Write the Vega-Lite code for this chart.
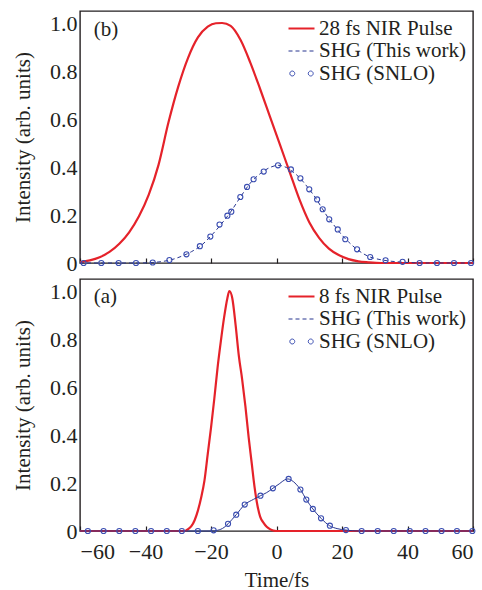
{
  "$schema": "https://vega.github.io/schema/vega-lite/v6.json",
  "background": "white",
  "padding": {"left": 11, "top": 10, "right": 9, "bottom": 0},
  "config": {
    "font": "Liberation Serif",
    "view": {"stroke": "#231f20", "strokeWidth": 1.4},
    "text": {"font": "Liberation Serif"},
    "axis": {
      "labelFont": "Liberation Serif",
      "titleFont": "Liberation Serif",
      "labelFontSize": 22,
      "titleFontSize": 21,
      "titleFontWeight": "normal",
      "labelColor": "#231f20",
      "titleColor": "#231f20",
      "tickColor": "#231f20",
      "domain": false,
      "grid": false
    },
    "legend": {
      "orient": "top-right",
      "offset": 7,
      "padding": 0,
      "labelFont": "Liberation Serif",
      "labelFontSize": 21,
      "labelColor": "#231f20",
      "labelLimit": 300,
      "symbolSize": 676,
      "labelOffset": 7,
      "rowPadding": 0.5,
      "symbolStrokeWidth": 1
    }
  },
  "datasets": {
    "top_pulse": [
      {"t": -60, "v": 0.004}, {"t": -57, "v": 0.011}, {"t": -54, "v": 0.024}, {"t": -51, "v": 0.046},
      {"t": -48, "v": 0.08}, {"t": -45, "v": 0.128}, {"t": -42, "v": 0.195}, {"t": -39, "v": 0.285},
      {"t": -36, "v": 0.41}, {"t": -33, "v": 0.585}, {"t": -30, "v": 0.735}, {"t": -27, "v": 0.855},
      {"t": -24, "v": 0.94}, {"t": -21, "v": 0.985}, {"t": -18.5, "v": 0.999}, {"t": -16.6, "v": 1.0},
      {"t": -14, "v": 0.988}, {"t": -11, "v": 0.93}, {"t": -8, "v": 0.835}, {"t": -5, "v": 0.725},
      {"t": -2, "v": 0.61}, {"t": 1, "v": 0.495}, {"t": 4, "v": 0.38}, {"t": 7, "v": 0.265},
      {"t": 10, "v": 0.17}, {"t": 13, "v": 0.105}, {"t": 16, "v": 0.06}, {"t": 19, "v": 0.033},
      {"t": 22, "v": 0.016}, {"t": 25, "v": 0.007}, {"t": 28, "v": 0.003}, {"t": 32, "v": 0},
      {"t": 60, "v": 0}
    ],
    "top_line": [
      {"t": -60, "v": 0}, {"t": -42, "v": 0}, {"t": -38, "v": 0.002}, {"t": -35, "v": 0.006},
      {"t": -32, "v": 0.014}, {"t": -29, "v": 0.028}, {"t": -26, "v": 0.047}, {"t": -23, "v": 0.073},
      {"t": -20, "v": 0.113}, {"t": -17, "v": 0.16}, {"t": -14, "v": 0.213}, {"t": -11, "v": 0.275},
      {"t": -8, "v": 0.333}, {"t": -5, "v": 0.372}, {"t": -2, "v": 0.398}, {"t": 0.5, "v": 0.407},
      {"t": 3, "v": 0.398}, {"t": 5, "v": 0.38}, {"t": 7, "v": 0.356}, {"t": 10, "v": 0.307},
      {"t": 12, "v": 0.27}, {"t": 14, "v": 0.226}, {"t": 16, "v": 0.184}, {"t": 18, "v": 0.15},
      {"t": 20, "v": 0.116}, {"t": 22, "v": 0.088}, {"t": 24, "v": 0.063}, {"t": 26, "v": 0.043},
      {"t": 28, "v": 0.028}, {"t": 31, "v": 0.016}, {"t": 34, "v": 0.009}, {"t": 38, "v": 0.004},
      {"t": 42, "v": 0.001}, {"t": 46, "v": 0}, {"t": 60, "v": 0}
    ],
    "top_snlo": [
      {"t": -58.9, "v": 0}, {"t": -53.5, "v": 0}, {"t": -48.2, "v": 0}, {"t": -42.9, "v": 0},
      {"t": -37.8, "v": 0.002}, {"t": -32.7, "v": 0.012}, {"t": -27.5, "v": 0.036}, {"t": -23.4, "v": 0.07},
      {"t": -20.2, "v": 0.11}, {"t": -17.4, "v": 0.16}, {"t": -15, "v": 0.197}, {"t": -13.8, "v": 0.214},
      {"t": -11.05, "v": 0.275}, {"t": -9, "v": 0.317}, {"t": -7, "v": 0.349}, {"t": -3.9, "v": 0.381},
      {"t": 0.46, "v": 0.407}, {"t": 4.4, "v": 0.39}, {"t": 7.3, "v": 0.353}, {"t": 10, "v": 0.307},
      {"t": 12.4, "v": 0.265}, {"t": 14.1, "v": 0.224}, {"t": 16.1, "v": 0.182}, {"t": 18.7, "v": 0.14},
      {"t": 21, "v": 0.099}, {"t": 24.6, "v": 0.057}, {"t": 28.6, "v": 0.025}, {"t": 33.3, "v": 0.011},
      {"t": 38.5, "v": 0.005}, {"t": 43.7, "v": 0}, {"t": 49, "v": 0}, {"t": 54.2, "v": 0}, {"t": 59.4, "v": 0}
    ],
    "bot_pulse": [
      {"t": -60, "v": 0}, {"t": -28, "v": 0}, {"t": -27.3, "v": 0.005}, {"t": -26, "v": 0.02},
      {"t": -25, "v": 0.045}, {"t": -24, "v": 0.085}, {"t": -23, "v": 0.14}, {"t": -22, "v": 0.21},
      {"t": -21, "v": 0.32}, {"t": -20, "v": 0.43}, {"t": -19, "v": 0.55}, {"t": -18, "v": 0.68},
      {"t": -17, "v": 0.79}, {"t": -16, "v": 0.89}, {"t": -15, "v": 0.97}, {"t": -14.4, "v": 1.0},
      {"t": -13.5, "v": 0.97}, {"t": -12.5, "v": 0.86}, {"t": -11.5, "v": 0.73}, {"t": -10.5, "v": 0.633},
      {"t": -9.5, "v": 0.52}, {"t": -8.5, "v": 0.39}, {"t": -7.5, "v": 0.275}, {"t": -7, "v": 0.215},
      {"t": -6, "v": 0.12}, {"t": -5, "v": 0.06}, {"t": -4, "v": 0.035}, {"t": -3, "v": 0.018},
      {"t": -2, "v": 0.008}, {"t": -1, "v": 0.002}, {"t": 0, "v": 0}, {"t": 60, "v": 0}
    ],
    "bot_line": [
      {"t": -60, "v": 0}, {"t": -20, "v": 0}, {"t": -18, "v": 0.003}, {"t": -16, "v": 0.015},
      {"t": -14.8, "v": 0.03}, {"t": -12.3, "v": 0.068}, {"t": -9.7, "v": 0.11}, {"t": -7, "v": 0.132},
      {"t": -4.9, "v": 0.147}, {"t": -3, "v": 0.16}, {"t": -1.1, "v": 0.178}, {"t": 1, "v": 0.198},
      {"t": 2.5, "v": 0.213}, {"t": 3.5, "v": 0.217}, {"t": 4.5, "v": 0.212}, {"t": 6, "v": 0.195},
      {"t": 7.3, "v": 0.173}, {"t": 9.1, "v": 0.131}, {"t": 11.1, "v": 0.092}, {"t": 13.6, "v": 0.053},
      {"t": 16.2, "v": 0.022}, {"t": 18.5, "v": 0.01}, {"t": 21.2, "v": 0.004}, {"t": 25, "v": 0},
      {"t": 60, "v": 0}
    ],
    "bot_snlo": [
      {"t": -57.6, "v": 0}, {"t": -52.8, "v": 0}, {"t": -48, "v": 0}, {"t": -43.1, "v": 0},
      {"t": -38.3, "v": 0}, {"t": -33.5, "v": 0}, {"t": -28.9, "v": 0}, {"t": -24, "v": 0},
      {"t": -19.2, "v": 0.003}, {"t": -14.8, "v": 0.03}, {"t": -12.3, "v": 0.068}, {"t": -9.7, "v": 0.11},
      {"t": -4.9, "v": 0.147}, {"t": -1.1, "v": 0.178}, {"t": 3.7, "v": 0.217}, {"t": 7.3, "v": 0.173},
      {"t": 9.1, "v": 0.131}, {"t": 11.1, "v": 0.092}, {"t": 13.6, "v": 0.053}, {"t": 16.3, "v": 0.022},
      {"t": 21.2, "v": 0.004}, {"t": 26, "v": 0}, {"t": 30.9, "v": 0}, {"t": 35.8, "v": 0},
      {"t": 40.7, "v": 0}, {"t": 45.5, "v": 0}, {"t": 50.4, "v": 0}, {"t": 55.1, "v": 0}, {"t": 59.8, "v": 0}
    ]
  },
  "spacing": 3,
  "resolve": {"scale": {"color": "independent"}, "legend": {"color": "independent"}},
  "vconcat": [
    {
      "width": 393,
      "height": 252,
      "layer": [
        {
          "data": {"name": "top_pulse"},
          "mark": {"type": "line", "strokeWidth": 2.2, "interpolate": "monotone"},
          "encoding": {
            "x": {"field": "t", "type": "quantitative",
              "scale": {"domain": [-60, 60], "nice": false, "zero": false},
              "axis": {"values": [-60, -40, -20, 0, 20, 40, 60], "labels": false, "title": null, "tickSize": -5, "tickWidth": 1.2}},
            "y": {"field": "v", "type": "quantitative",
              "scale": {"domain": [0, 1.05], "nice": false},
              "axis": {"values": [0, 0.2, 0.4, 0.6, 0.8, 1.0], "ticks": false, "labelPadding": 3, "titlePadding": 16,
                "labelFont": "Liberation Serif", "titleFont": "Liberation Serif",
                "labelExpr": "datum.value == 0 ? '0' : format(datum.value, '.1f')",
                "title": "Intensity (arb. units)"}},
            "color": {"datum": "28 fs NIR Pulse", "type": "nominal",
              "scale": {"domain": ["28 fs NIR Pulse", "SHG (This work)", "SHG (SNLO)"], "range": ["#e5222a", "#27358f", "#3a4db1"]},
              "legend": {"title": null, "labelFont": "Liberation Serif",
                "encode": {"symbols": {"update": {
                  "shape": {"signal": "datum.value == 'SHG (SNLO)' ? 'M-0.52,0A0.19,0.19 0 1,1 -0.9,0A0.19,0.19 0 1,1 -0.52,0ZM0.9,0A0.19,0.19 0 1,1 0.52,0A0.19,0.19 0 1,1 0.9,0Z' : 'stroke'"},
                  "strokeDash": {"signal": "datum.value == 'SHG (This work)' ? [4, 3] : [1, 0]"},
                  "stroke": {"signal": "datum.value == 'SHG (This work)' ? '#27358f' : (datum.value == 'SHG (SNLO)' ? '#3a4db1' : '#e5222a')"},
                  "strokeWidth": {"signal": "datum.value == 'SHG (This work)' || datum.value == 'SHG (SNLO)' ? 1 : 2.2"},
                  "fill": {"value": "transparent"}
                }}}}}
          }
        },
        {
          "data": {"name": "top_line"},
          "mark": {"type": "line", "strokeWidth": 1, "strokeDash": [4, 3], "interpolate": "monotone"},
          "encoding": {
            "x": {"field": "t", "type": "quantitative"},
            "y": {"field": "v", "type": "quantitative"},
            "color": {"datum": "SHG (This work)", "type": "nominal"}}
        },
        {
          "data": {"name": "top_snlo"},
          "mark": {"type": "point", "shape": "circle", "filled": false, "size": 26, "strokeWidth": 1.1, "opacity": 1},
          "encoding": {
            "x": {"field": "t", "type": "quantitative"},
            "y": {"field": "v", "type": "quantitative"},
            "color": {"datum": "SHG (SNLO)", "type": "nominal"}}
        },
        {
          "data": {"values": [{"label": "(b)"}]},
          "mark": {"type": "text", "align": "left", "baseline": "alphabetic", "fontSize": 21, "font": "Liberation Serif", "color": "#231f20"},
          "encoding": {
            "x": {"datum": -55.8, "type": "quantitative"},
            "y": {"datum": 0.945, "type": "quantitative"},
            "text": {"field": "label", "type": "nominal"}
          }
        }
      ]
    },
    {
      "width": 393,
      "height": 252,
      "layer": [
        {
          "data": {"name": "bot_pulse"},
          "mark": {"type": "line", "strokeWidth": 2.2, "interpolate": "monotone"},
          "encoding": {
            "x": {"field": "t", "type": "quantitative",
              "scale": {"domain": [-60, 60], "nice": false, "zero": false},
              "axis": {"values": [-60, -40, -20, 0, 20, 40, 60], "tickSize": -5, "tickWidth": 1.2, "labelPadding": 15, "titlePadding": 7, "title": "Time/fs",
                "labelFont": "Liberation Serif", "titleFont": "Liberation Serif"}},
            "y": {"field": "v", "type": "quantitative",
              "scale": {"domain": [0, 1.05], "nice": false},
              "axis": {"values": [0, 0.2, 0.4, 0.6, 0.8, 1.0], "ticks": false, "labelPadding": 3, "titlePadding": 16,
                "labelFont": "Liberation Serif", "titleFont": "Liberation Serif",
                "labelExpr": "datum.value == 0 ? '0' : format(datum.value, '.1f')",
                "title": "Intensity (arb. units)"}},
            "color": {"datum": "8 fs NIR Pulse", "type": "nominal",
              "scale": {"domain": ["8 fs NIR Pulse", "SHG (This work)", "SHG (SNLO)"], "range": ["#e5222a", "#27358f", "#3a4db1"]},
              "legend": {"title": null, "labelFont": "Liberation Serif",
                "encode": {"symbols": {"update": {
                  "shape": {"signal": "datum.value == 'SHG (SNLO)' ? 'M-0.52,0A0.19,0.19 0 1,1 -0.9,0A0.19,0.19 0 1,1 -0.52,0ZM0.9,0A0.19,0.19 0 1,1 0.52,0A0.19,0.19 0 1,1 0.9,0Z' : 'stroke'"},
                  "strokeDash": {"signal": "datum.value == 'SHG (This work)' ? [4, 3] : [1, 0]"},
                  "stroke": {"signal": "datum.value == 'SHG (This work)' ? '#27358f' : (datum.value == 'SHG (SNLO)' ? '#3a4db1' : '#e5222a')"},
                  "strokeWidth": {"signal": "datum.value == 'SHG (This work)' || datum.value == 'SHG (SNLO)' ? 1 : 2.2"},
                  "fill": {"value": "transparent"}
                }}}}}
          }
        },
        {
          "data": {"name": "bot_line"},
          "mark": {"type": "line", "strokeWidth": 1, "interpolate": "monotone"},
          "encoding": {
            "x": {"field": "t", "type": "quantitative"},
            "y": {"field": "v", "type": "quantitative"},
            "color": {"datum": "SHG (This work)", "type": "nominal"}}
        },
        {
          "data": {"name": "bot_snlo"},
          "mark": {"type": "point", "shape": "circle", "filled": false, "size": 26, "strokeWidth": 1.1, "opacity": 1},
          "encoding": {
            "x": {"field": "t", "type": "quantitative"},
            "y": {"field": "v", "type": "quantitative"},
            "color": {"datum": "SHG (SNLO)", "type": "nominal"}}
        },
        {
          "data": {"values": [{"label": "(a)"}]},
          "mark": {"type": "text", "align": "left", "baseline": "alphabetic", "fontSize": 21, "font": "Liberation Serif", "color": "#231f20"},
          "encoding": {
            "x": {"datum": -55.8, "type": "quantitative"},
            "y": {"datum": 0.95, "type": "quantitative"},
            "text": {"field": "label", "type": "nominal"}
          }
        }
      ]
    }
  ]
}
